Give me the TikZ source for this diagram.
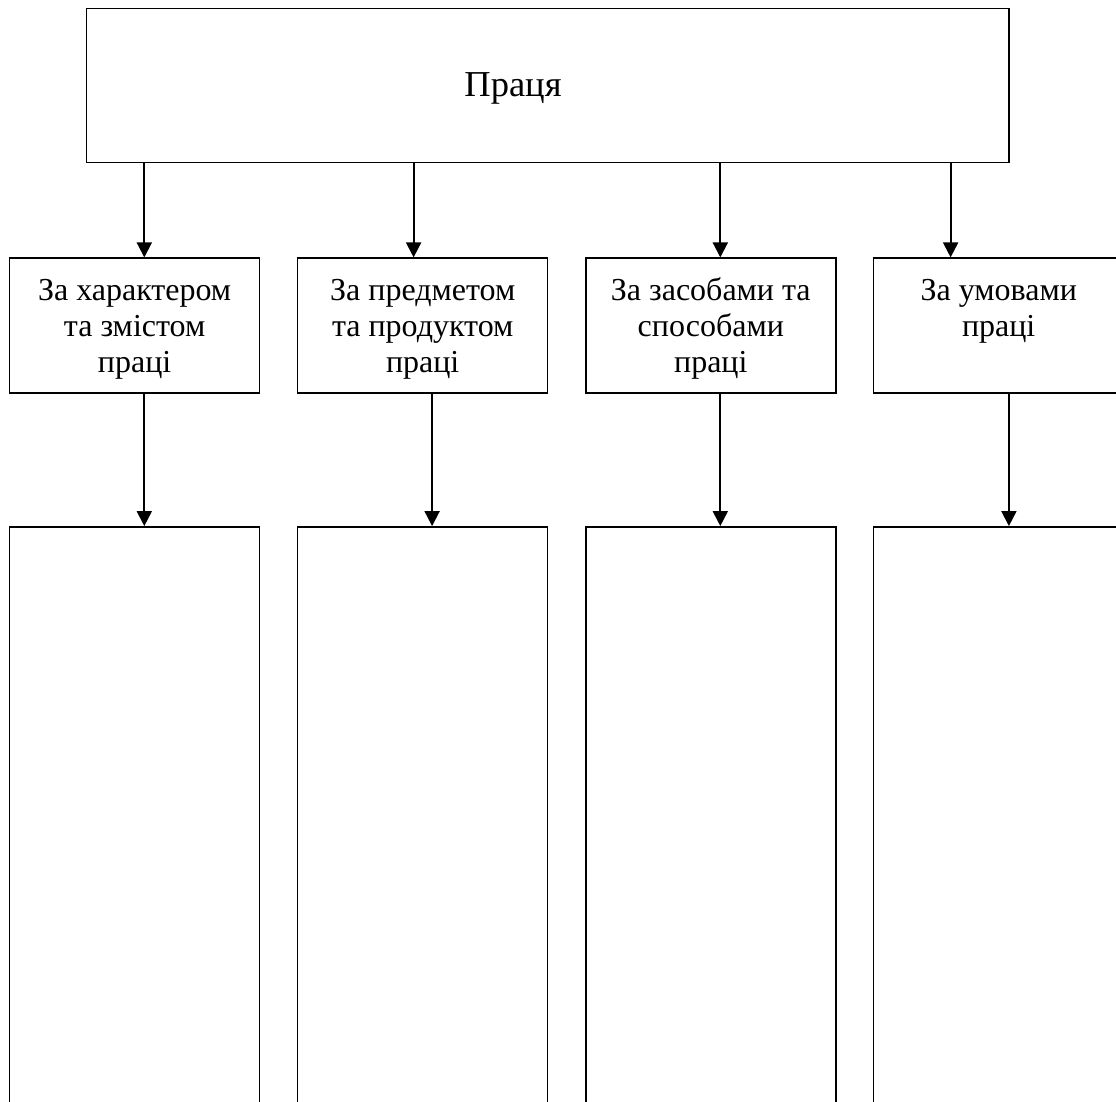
\documentclass[tikz,border=0pt]{standalone}
\usepackage{fontspec}
\setmainfont{Liberation Serif}
\usetikzlibrary{arrows.meta}
\begin{document}
\begin{tikzpicture}[x=1pt,y=1pt,
  boxline/.style={draw=black, line width=1.5pt, inner sep=0pt},
  topbox/.style={boxline, minimum width=922.5pt, minimum height=153.9pt},
  midbox/.style={boxline, minimum width=250pt, minimum height=134.7pt},
  lowbox/.style={boxline, minimum width=250pt, minimum height=640pt},
  midtxt/.style={font=\fontsize{32}{36.4}\selectfont, align=center, anchor=north, inner sep=0pt},
  toptxt/.style={font=\fontsize{36.5}{42}\selectfont, anchor=base, inner sep=0pt},
  arr/.style={line width=2pt, -{Triangle[length=15pt,width=15pt]}}]
\useasboundingbox (0,0) rectangle (1116,-1101);
\clip (0,0) rectangle (1116,-1101);
% top box
\node[topbox] (top) at (547.6,-85.5) {};
\node[toptxt] (toptext) at (513,-96.7) {Праця};
% middle boxes
\node[midbox] (m1) at (134.6,-325.5) {};
\node[midbox] (m2) at (422.7,-325.5) {};
\node[midbox] (m3) at (710.8,-325.5) {};
\node[midbox] (m4) at (998.7,-325.5) {};
\node[midtxt] (t1) at (134.6,-274.5) {\strut За характером\\та змістом\\праці};
\node[midtxt] (t2) at (422.7,-274.5) {\strut За предметом\\та продуктом\\праці};
\node[midtxt] (t3) at (710.8,-274.5) {\strut За засобами та\\способами\\праці};
\node[midtxt] (t4) at (998.7,-274.5) {\strut За умовами\\праці};
% bottom boxes
\node[lowbox] (b1) at (134.6,-846.8) {};
\node[lowbox] (b2) at (422.7,-846.8) {};
\node[lowbox] (b3) at (710.8,-846.8) {};
\node[lowbox] (b4) at (998.7,-846.8) {};
% arrow x positions
\coordinate (a1) at (144.3,0);
\coordinate (a2) at (413.6,0);
\coordinate (a3) at (720.3,0);
\coordinate (a4) at (950.6,0);
\coordinate (c1) at (144.3,0);
\coordinate (c2) at (432.1,0);
\coordinate (c3) at (720.3,0);
\coordinate (c4) at (1008.9,0);
\draw[arr] (top.south -| a1) -- (m1.north -| a1);
\draw[arr] (top.south -| a2) -- (m2.north -| a2);
\draw[arr] (top.south -| a3) -- (m3.north -| a3);
\draw[arr] (top.south -| a4) -- (m4.north -| a4);
\draw[arr] (m1.south -| c1) -- (b1.north -| c1);
\draw[arr] (m2.south -| c2) -- (b2.north -| c2);
\draw[arr] (m3.south -| c3) -- (b3.north -| c3);
\draw[arr] (m4.south -| c4) -- (b4.north -| c4);
\end{tikzpicture}
\end{document}
